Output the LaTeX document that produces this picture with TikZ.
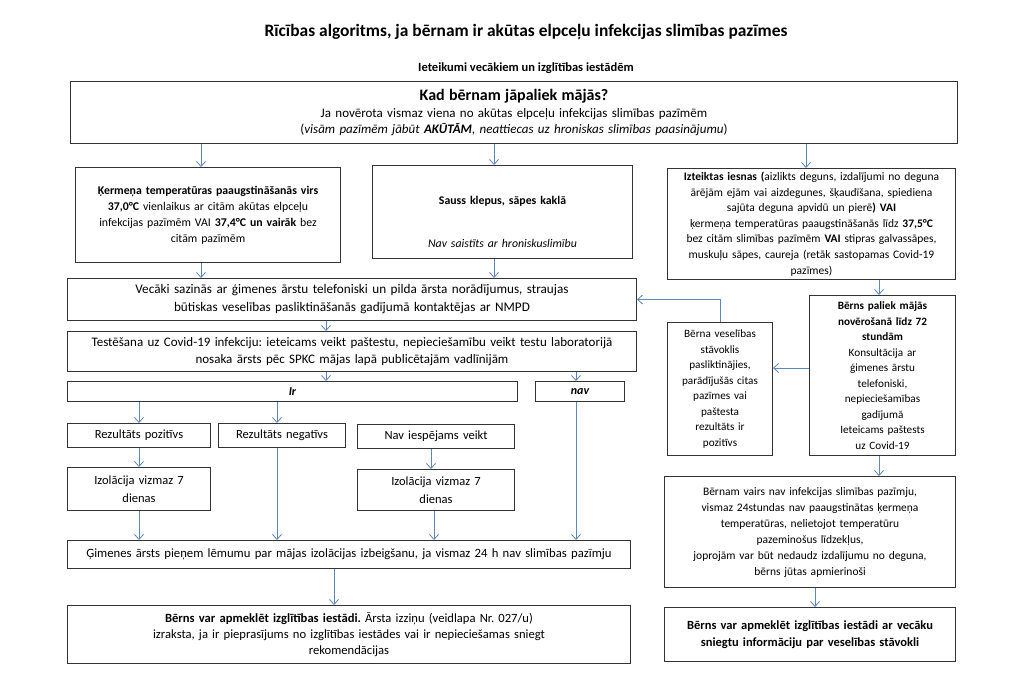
\documentclass[tikz,border=0pt]{standalone}
\usepackage{fontspec}
\setmainfont{Carlito}
\usetikzlibrary{arrows.meta}
\definecolor{arrowblue}{HTML}{5B86BF}
\definecolor{boxline}{HTML}{333333}
\newcommand\fsz[2]{\fontsize{#1}{#2}\selectfont}
\frenchspacing
\begin{document}
\begin{tikzpicture}[x=1pt,y=-1pt,
  box/.style={draw=boxline, line width=1pt, align=center, inner sep=2pt, anchor=north west},
  arr/.style={draw=arrowblue, line width=0.8pt, -{Straight Barb[length=5pt,width=9pt,line width=0.8pt]}},
  body/.style={font=\fsz{11.8}{16}},
  small/.style={font=\fsz{11.2}{15.5}},
]
\useasboundingbox[fill=white] (0,0) rectangle (1024,678);

% titles
\node[font=\bfseries\fsz{17.4}{20}] (title) at (526,32) {Rīcības algoritms, ja bērnam ir akūtas elpceļu infekcijas slimības pazīmes};
\node[font=\bfseries\fsz{12.5}{14}] (subtitle) at (526,68) {Ieteikumi vecākiem un izglītības iestādēm};

% top box
\node[box, minimum width=887, minimum height=62, text width=883, font=\fsz{13}{16}] (top) at (70,81)
  {{\bfseries\fsz{16}{19}Kad bērnam jāpaliek mājās?}\\[1pt]
   Ja novērota vismaz viena no akūtas elpceļu infekcijas slimības pazīmēm\\
   (\textit{visām pazīmēm jābūt \textbf{AKŪTĀM}, neattiecas uz hroniskas slimības paasinājumu})};

% three symptom boxes
\node[box, body, minimum width=265, minimum height=95, text width=261] (left) at (75,167)
  {\textbf{Ķermeņa temperatūras paaugstināšanās virs}\\
   \textbf{37,0°C} vienlaikus ar citām akūtas elpceļu\\
   infekcijas pazīmēm VAI \textbf{37,4°C un vairāk} bez\\
   citām pazīmēm};
\node[box, body, minimum width=260, minimum height=93, text width=256] (mid) at (372,165)
  {\rule{0pt}{28pt}\textbf{Sauss klepus, sāpes kaklā}\\[27pt]
   \textit{Nav saistīts ar hroniskuslimību}};
\node[box, font=\fsz{11.5}{15.6}, minimum width=288, minimum height=111, text width=284] (right) at (667,168)
  {\textbf{Izteiktas iesnas (}aizlikts deguns, izdalījumi no deguna\\
   ārējām ejām vai aizdegunes, šķaudīšana, spiediena\\
   sajūta deguna apvidū un pierē\textbf{) VAI}\\
   ķermeņa temperatūras paaugstināšanās līdz \textbf{37,5°C}\\
   bez citām slimības pazīmēm \textbf{VAI} stipras galvassāpes,\\
   muskuļu sāpes, caureja (retāk sastopamas Covid-19\\
   pazīmes)};

% main column
\node[box, font=\fsz{13.2}{18}, minimum width=569, minimum height=42, text width=565] (vec) at (67,278)
  {Vecāki sazinās ar ģimenes ārstu telefoniski un pilda ārsta norādījumus, straujas\\
   būtiskas veselības pasliktināšanās gadījumā kontaktējas ar NMPD};
\node[box, font=\fsz{13}{17}, minimum width=569, minimum height=40, text width=565] (test) at (67,331)
  {Testēšana uz Covid-19 infekciju: ieteicams veikt paštestu, nepieciešamību veikt testu laboratorijā\\
   nosaka ārsts pēc SPKC mājas lapā publicētajām vadlīnijām};
\node[box, font=\bfseries\itshape\fsz{12}{14}, minimum width=450, minimum height=20, text width=446] (ir) at (67,381) {Ir};
\node[box, font=\bfseries\itshape\fsz{12}{14}, minimum width=89, minimum height=20, text width=85] (nav) at (535,381) {nav};

\node[box, font=\fsz{12.5}{16}, minimum width=143, minimum height=24, text width=139] (poz) at (67,423) {Rezultāts pozitīvs};
\node[box, font=\fsz{12.5}{16}, minimum width=127, minimum height=24, text width=123] (neg) at (218,423) {Rezultāts negatīvs};
\node[box, font=\fsz{12.5}{16}, minimum width=157, minimum height=24, text width=153] (navi) at (357,424) {Nav iespējams veikt};
\node[box, font=\fsz{12.5}{18}, minimum width=143, minimum height=43, text width=139] (iz1) at (67,467) {Izolācija vizmaz 7\\dienas};
\node[box, font=\fsz{12.5}{18}, minimum width=157, minimum height=41, text width=153] (iz2) at (357,469) {Izolācija vizmaz 7\\dienas};

\node[box, font=\fsz{12.7}{16}, minimum width=563, minimum height=28, text width=559] (gim) at (67,540)
  {Ģimenes ārsts pieņem lēmumu par mājas izolācijas izbeigšanu, ja vismaz 24 h nav slimības pazīmju};
\node[box, font=\fsz{12.6}{16}, minimum width=563, minimum height=58, text width=559] (bl) at (67,605)
  {\textbf{Bērns var apmeklēt izglītības iestādi.} Ārsta izziņu (veidlapa Nr. 027/u)\\
   izraksta, ja ir pieprasījums no izglītības iestādes vai ir nepieciešamas sniegt\\
   rekomendācijas};

% right column
\node[box, small, minimum width=146, minimum height=160, text width=142] (bpm) at (809,295)
  {\textbf{Bērns paliek mājās}\\
   \textbf{novērošanā līdz 72}\\
   \textbf{stundām}\\
   Konsultācija ar\\
   ģimenes ārstu\\
   telefoniski,\\
   nepieciešamības\\
   gadījumā\\
   Ieteicams paštests\\
   uz Covid-19};
\node[box, small, minimum width=105, minimum height=133, text width=101] (bvs) at (667,322)
  {Bērna veselības\\
   stāvoklis\\
   pasliktinājies,\\
   parādījušās citas\\
   pazīmes vai\\
   paštesta\\
   rezultāts ir\\
   pozitīvs};
\node[box, font=\fsz{11.5}{16}, minimum width=291, minimum height=111, text width=287] (bnv) at (664,476)
  {Bērnam vairs nav infekcijas slimības pazīmju,\\
   vismaz 24stundas nav paaugstinātas ķermeņa\\
   temperatūras, nelietojot temperatūru\\
   pazeminošus līdzekļus,\\
   joprojām var būt nedaudz izdalījumu no deguna,\\
   bērns jūtas apmierinoši};
\node[box, font=\bfseries\fsz{12.5}{17}, minimum width=291, minimum height=54, text width=287] (br) at (664,607)
  {Bērns var apmeklēt izglītības iestādi ar vecāku\\
   sniegtu informāciju par veselības stāvokli};

% column helpers
\coordinate (xa) at (201,0);
\coordinate (xb) at (494,0);
\coordinate (xc) at (806,0);
\coordinate (xd) at (879,0);
\coordinate (xe) at (326,0);
\coordinate (xf) at (576,0);
\coordinate (xg) at (139,0);
\coordinate (xh) at (277,0);
\coordinate (xi) at (431,0);
\coordinate (xj) at (434,0);
\coordinate (xk) at (334,0);
\coordinate (xl) at (815,0);
\coordinate (ya) at (0,368);

% connectors
\draw[arr] (xa |- top.south) -- (xa |- left.north);
\draw[arr] (xb |- top.south) -- (xb |- mid.north);
\draw[arr] (xc |- top.south) -- (xc |- right.north);
\draw[arr] (xa |- left.south) -- (xa |- vec.north);
\draw[arr] (xb |- mid.south) -- (xb |- vec.north);
\draw[arr] (xd |- right.south) -- (xd |- bpm.north);
\draw[arr] (xe |- vec.south) -- (xe |- test.north);
\draw[arr] (xe |- test.south) -- (xe |- ir.north);
\draw[arr] (xf |- test.south) -- (xf |- nav.north);
\draw[arr] (xg |- ir.south) -- (xg |- poz.north);
\draw[arr] (xh |- ir.south) -- (xh |- neg.north);
\draw[arr] (xg |- poz.south) -- (xg |- iz1.north);
\draw[arr] (xh |- neg.south) -- (xh |- gim.north);
\draw[arr] (xi |- navi.south) -- (xi |- iz2.north);
\draw[arr] (xg |- iz1.south) -- (xg |- gim.north);
\draw[arr] (xj |- iz2.south) -- (xj |- gim.north);
\draw[arr] (xf |- nav.south) -- (xf |- gim.north);
\draw[arr] (xk |- gim.south) -- (xk |- bl.north);
\draw[arr] (bpm.west |- ya) -- (bvs.east |- ya);
\draw[arr] (bvs.north) |- (vec.east);
\draw[arr] (xd |- bpm.south) -- (xd |- bnv.north);
\draw[arr] (xl |- bnv.south) -- (xl |- br.north);
\end{tikzpicture}
\end{document}
